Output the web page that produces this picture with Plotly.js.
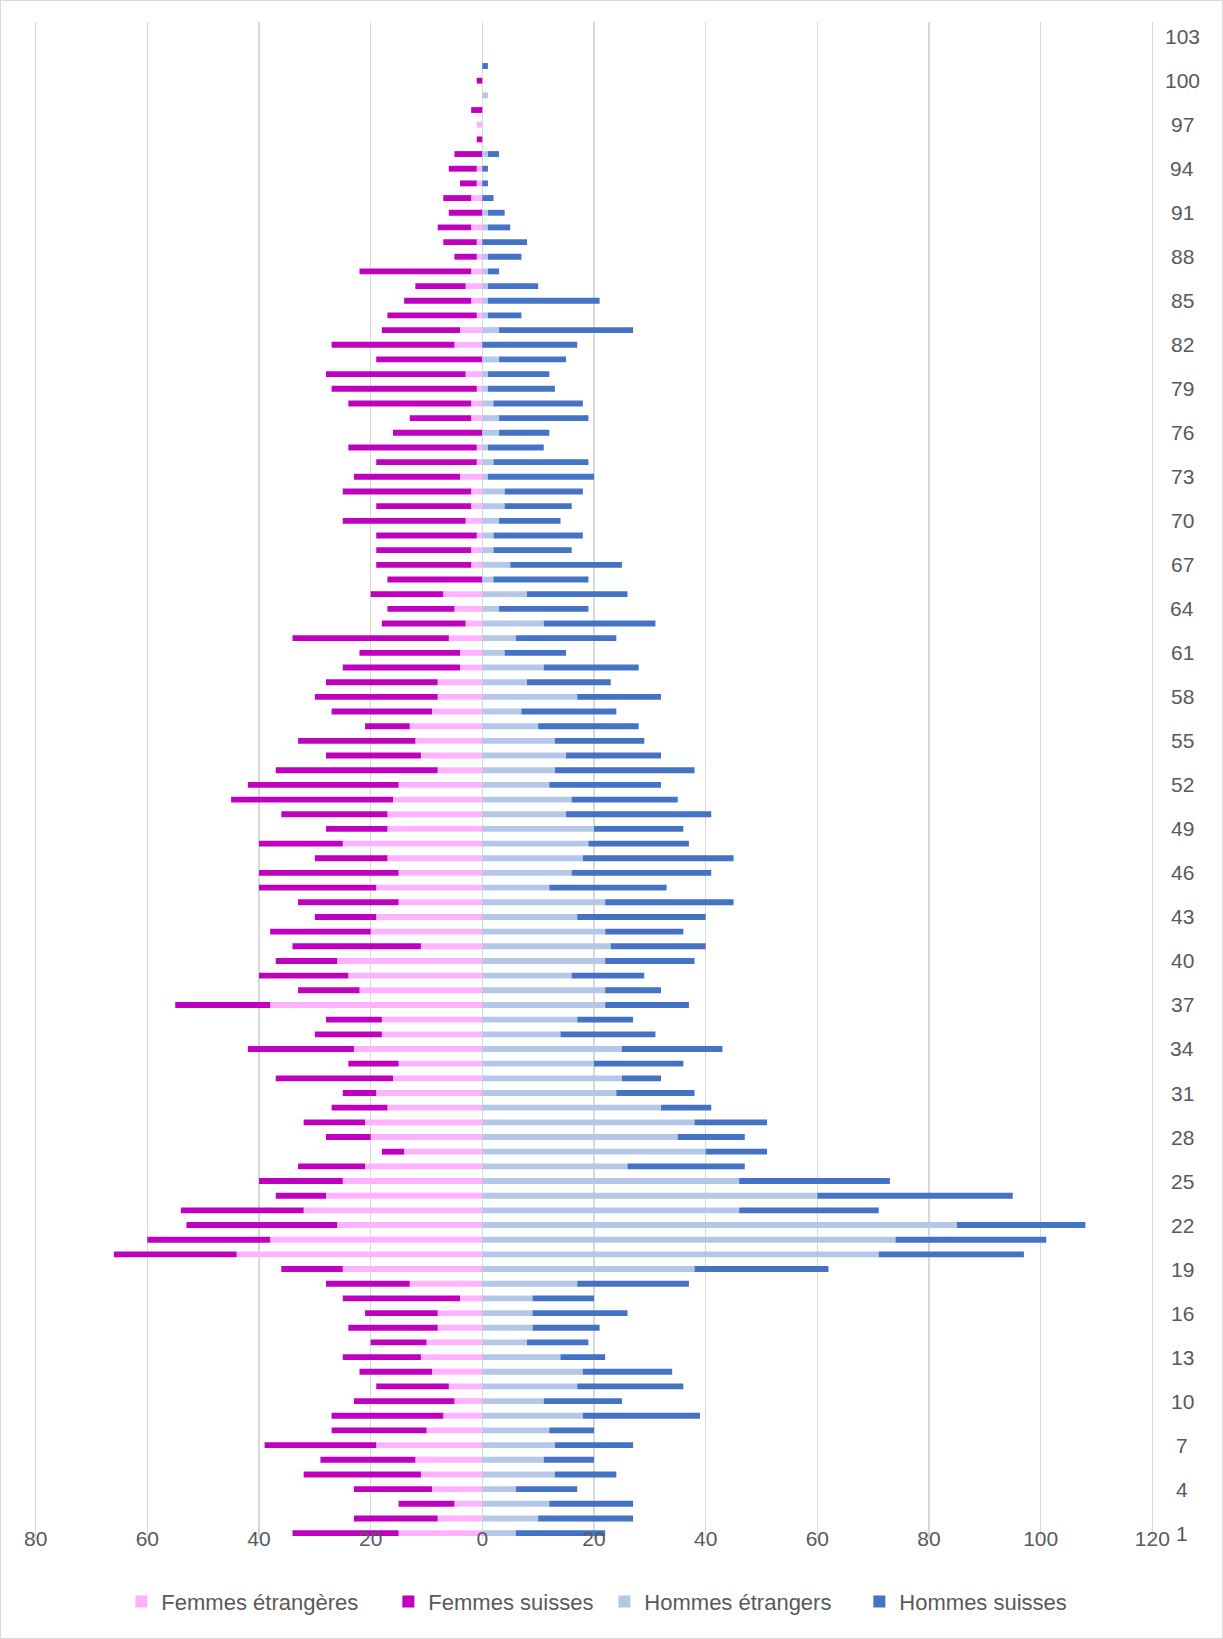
<!DOCTYPE html>
<html>
<head>
<meta charset="utf-8">
<script src="https://cdn.plot.ly/plotly-3.0.1.min.js"></script>
<style>
html, body { margin: 0; padding: 0; background: #ffffff; }
#wrap { position: relative; width: 1223px; height: 1639px; }
#chart { width: 1223px; height: 1639px; }
#frame { position: absolute; left: 0; top: 0; width: 1223px; height: 1639px; box-sizing: border-box; border: 1px solid #d9d9d9; pointer-events: none; }
</style>
</head>
<body>
<div id="wrap"><div id="chart"></div><div id="frame"></div></div>
<script>
// Ages (categories), bottom to top
const ages = [
  1,2,3,4,5,6,7,8,9,10,
  11,12,13,14,15,16,17,18,19,20,
  21,22,23,24,25,26,27,28,29,30,
  31,32,33,34,35,36,37,38,39,40,
  41,42,43,44,45,46,47,48,49,50,
  51,52,53,54,55,56,57,58,59,60,
  61,62,63,64,65,66,67,68,69,70,
  71,72,73,74,75,76,77,78,79,80,
  81,82,83,84,85,86,87,88,89,90,
  91,92,93,94,95,96,97,98,99,100,
  101,102,103
];

const femmesEtrangeres = [
  15,8,5,9,11,12,19,10,7,5,
  6,9,11,10,8,8,4,13,25,44,
  38,26,32,28,25,21,14,20,21,17,
  19,16,15,23,18,18,38,22,24,26,
  11,20,19,15,19,15,17,25,17,17,
  16,15,8,11,12,13,9,8,8,4,
  4,6,3,5,7,0,2,2,1,3,
  2,2,4,1,1,0,2,2,1,3,
  0,5,4,1,2,3,2,1,1,2,
  0,2,1,1,0,0,1,0,0,0,
  0,0,0
];

const femmesSuisses = [
  19,15,10,14,21,17,20,17,20,18,
  13,13,14,10,16,13,21,15,11,22,
  22,27,22,9,15,12,4,8,11,10,
  6,21,9,19,12,10,17,11,16,11,
  23,18,11,18,21,25,13,15,11,19,
  29,27,29,17,21,8,18,22,20,21,
  18,28,15,12,13,17,17,17,18,22,
  17,23,19,18,23,16,11,22,26,25,
  19,22,14,16,12,9,20,4,6,6,
  6,5,3,5,5,1,0,2,0,1,
  0,0,0
];

const hommesEtrangers = [
  6,10,12,6,13,11,13,12,18,11,
  17,18,14,8,9,9,9,17,38,71,
  74,85,46,60,46,26,40,35,38,32,
  24,25,20,25,14,17,22,22,16,22,
  23,22,17,22,12,16,18,19,20,15,
  16,12,13,15,13,10,7,17,8,11,
  4,6,11,3,8,2,5,2,2,3,
  4,4,1,2,1,3,3,2,1,1,
  3,0,3,1,1,1,1,1,0,1,
  1,0,0,0,1,0,0,0,1,0,
  0,0,0
];

const hommesSuisses = [
  16,17,15,11,11,9,14,8,21,14,
  19,16,8,11,12,17,11,20,24,26,
  27,23,25,35,27,21,11,12,13,9,
  14,7,16,18,17,10,15,10,13,16,
  17,14,23,23,21,25,27,18,16,26,
  19,20,25,17,16,18,17,15,15,17,
  11,18,20,16,18,17,20,14,16,11,
  12,14,19,17,10,9,16,16,12,11,
  12,17,24,6,20,9,2,6,8,4,
  3,2,1,1,2,0,0,0,0,0,
  1,0,0
];

// Axis ticks
const xTickVals = [-80, -60, -40, -20, 0, 20, 40, 60, 80, 100, 120];
const xTickText = ['80', '60', '40', '20', '0', '20', '40', '60', '80', '100', '120'];
const yTickVals = [1,4,7,10,13,16,19,22,25,28,31,34,37,40,43,46,49,52,55,58,61,64,67,70,73,76,79,82,85,88,91,94,97,100,103];
const yTickText = ['1','4','7','10','13','16','19','22','25','28','31','34','37','40','43','46','49','52','55','58','61','64','67','70','73','76','79','82','85','88','91','94','97','100','103'];

const seriesNames = ['Femmes étrangères', 'Femmes suisses', 'Hommes étrangers', 'Hommes suisses'];
const seriesColors = ['#FFB3FF', '#BF00BF', '#B4C7E7', '#4472C4'];

const FONT = 'Liberation Sans, Arial, sans-serif';
const TEXT_COLOR = '#595959';

const neg = arr => arr.map(v => -v);

const legendWidths = [222, 171, 210, 200];

const traces = [
  { name: seriesNames[0], x: neg(femmesEtrangeres), color: seriesColors[0] },
  { name: seriesNames[1], x: neg(femmesSuisses), color: seriesColors[1] },
  { name: seriesNames[2], x: hommesEtrangers, color: seriesColors[2] },
  { name: seriesNames[3], x: hommesSuisses, color: seriesColors[3] }
].map((s, i) => ({
  type: 'bar',
  orientation: 'h',
  name: s.name,
  y: ages,
  x: s.x,
  marker: { color: s.color, line: { width: 0 } },
  legendwidth: legendWidths[i],
  hoverinfo: 'skip'
}));

// Right-hand category labels, centred in their column
const yLabelAnnotations = yTickVals.map((v, i) => ({
  xref: 'paper',
  yref: 'y',
  x: 1.0251,
  y: v,
  xanchor: 'center',
  yanchor: 'middle',
  text: yTickText[i],
  showarrow: false,
  font: { family: FONT, size: 21, color: TEXT_COLOR }
}));

const layout = {
  width: 1223,
  height: 1639,
  paper_bgcolor: '#ffffff',
  plot_bgcolor: '#ffffff',
  barmode: 'relative',
  bargap: 0.6,
  margin: { l: 34.33, r: 69.33, t: 22, b: 100, pad: 0 },
  font: { family: FONT, size: 21, color: TEXT_COLOR },
  showlegend: true,
  xaxis: {
    range: [-80.3, 120.3],
    tickmode: 'array',
    tickvals: xTickVals,
    ticktext: xTickText,
    showgrid: true,
    gridcolor: '#d9d9d9',
    gridwidth: 1.5,
    zeroline: false,
    showline: false,
    ticks: '',
    ticklabelstandoff: -15,
    tickfont: { family: FONT, size: 21, color: TEXT_COLOR },
    fixedrange: true
  },
  yaxis: {
    range: [0.6, 104],
    side: 'right',
    showticklabels: false,
    showgrid: false,
    zeroline: false,
    showline: false,
    ticks: '',
    fixedrange: true
  },
  annotations: yLabelAnnotations,
  legend: {
    orientation: 'h',
    x: 0.078,
    xanchor: 'left',
    y: -0.0414,
    yanchor: 'middle',
    traceorder: 'normal',
    font: { family: FONT, size: 22, color: TEXT_COLOR },
    bgcolor: 'rgba(0,0,0,0)'
  }
};

Plotly.newPlot('chart', traces, layout, { staticPlot: true, displayModeBar: false });
</script>
</body>
</html>
